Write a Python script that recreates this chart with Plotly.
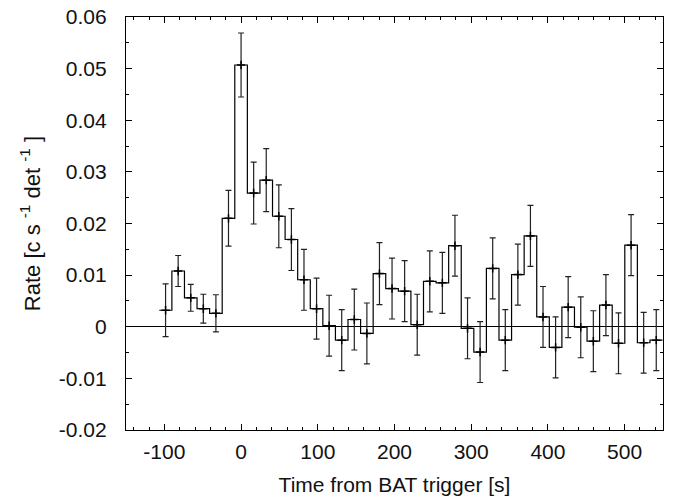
import numpy as np
import plotly.graph_objects as go

# Bin centres (s from BAT trigger)
time_s = [-98.4, -82.0, -65.6, -49.2, -32.8, -16.4, 0.0, 16.4, 32.8, 49.2,
          65.6, 82.0, 98.4, 114.8, 131.2, 147.6, 164.0, 180.4, 196.8, 213.2,
          229.6, 246.0, 262.4, 278.8, 295.2, 311.6, 328.0, 344.4, 360.8, 377.2,
          393.6, 410.0, 426.4, 442.8, 459.2, 475.6, 492.0, 508.4, 524.8, 541.2]

rate = [0.0032, 0.0108, 0.0056, 0.0035, 0.0026, 0.0210, 0.0507, 0.0259, 0.0284, 0.0214,
        0.0169, 0.0091, 0.0035, 0.0002, -0.0026, 0.0014, -0.0013, 0.0103, 0.0074, 0.0069,
        0.0004, 0.0088, 0.0085, 0.0157, -0.0003, -0.0049, 0.0113, -0.0026, 0.0101, 0.0176,
        0.0019, -0.0040, 0.0038, -0.0001, -0.0028, 0.0042, -0.0032, 0.0158, -0.0031, -0.0026]

rate_err = [0.0051, 0.0030, 0.0026, 0.0028, 0.0036, 0.0054, 0.0062, 0.0060, 0.0061, 0.0061,
            0.0060, 0.0059, 0.0059, 0.0059, 0.0059, 0.0059, 0.0059, 0.0060, 0.0059, 0.0059,
            0.0059, 0.0059, 0.0059, 0.0059, 0.0059, 0.0059, 0.0059, 0.0059, 0.0059, 0.0059,
            0.0059, 0.0059, 0.0059, 0.0059, 0.0059, 0.0059, 0.0059, 0.0059, 0.0059, 0.0059]

x_tick_vals = [-100, 0, 100, 200, 300, 400, 500]
x_tick_text = ["-100", "0", "100", "200", "300", "400", "500"]
y_tick_vals = [-0.02, -0.01, 0.0, 0.01, 0.02, 0.03, 0.04, 0.05, 0.06]
y_tick_text = ["-0.02", "-0.01", "0", "0.01", "0.02", "0.03", "0.04", "0.05", "0.06"]

# histogram-step outline built from the bin centres
t = np.array(time_s)
half = np.diff(t).mean() / 2.0
step_x, step_y = [], []
for c, v in zip(t, rate):
    step_x += [c - half, c + half]
    step_y += [v, v]

fig = go.Figure()
fig.add_trace(go.Scatter(x=step_x, y=step_y, mode="lines",
                         line=dict(color="black", width=1.2),
                         hoverinfo="skip", showlegend=False))
fig.add_trace(go.Scatter(x=time_s, y=rate, mode="markers",
                         marker=dict(symbol="cross-thin", size=6,
                                     line=dict(color="black", width=1.5)),
                         error_y=dict(type="data", array=rate_err, visible=True,
                                      color="#222222", thickness=1.2, width=3),
                         showlegend=False))

font_family = "Liberation Sans, Arial, Helvetica, sans-serif"
axis_common = dict(showline=True, linecolor="black", linewidth=1.2, mirror="allticks",
                   ticks="inside", ticklen=6, tickwidth=1, tickcolor="black",
                   showgrid=False, automargin=False, ticklabeloverflow="allow",
                   tickfont=dict(family=font_family, size=21, color="#111111"))

fig.update_layout(
    width=676, height=501,
    margin=dict(l=126, r=13, t=17, b=71),
    paper_bgcolor="white", plot_bgcolor="white",
    font=dict(family=font_family, color="#111111"),
    xaxis=dict(range=[-150, 550], tickmode="array", tickvals=x_tick_vals, ticktext=x_tick_text,
               minor=dict(dtick=20, tick0=0, ticks="inside", ticklen=3, tickcolor="black"),
               zeroline=False, ticklabelstandoff=3,
               title=dict(text="Time from BAT trigger [s]",
                          font=dict(family=font_family, size=21), standoff=14),
               **axis_common),
    yaxis=dict(range=[-0.02, 0.06], tickmode="array", tickvals=y_tick_vals, ticktext=y_tick_text,
               minor=dict(dtick=0.005, tick0=0, ticks="inside", ticklen=3, tickcolor="black"),
               zeroline=True, zerolinecolor="black", zerolinewidth=1.2,
               ticklabelstandoff=14,
               title=dict(text="Rate [c s&nbsp;<sup>-1</sup>&nbsp;det&nbsp;<sup>-1</sup>&nbsp;]",
                          font=dict(family=font_family, size=22), standoff=12),
               **axis_common),
)

fig.write_html("out.html",
               config={"displayModeBar": False, "staticPlot": True},
               post_script="document.body.style.margin='0';document.body.style.overflow='hidden';")
